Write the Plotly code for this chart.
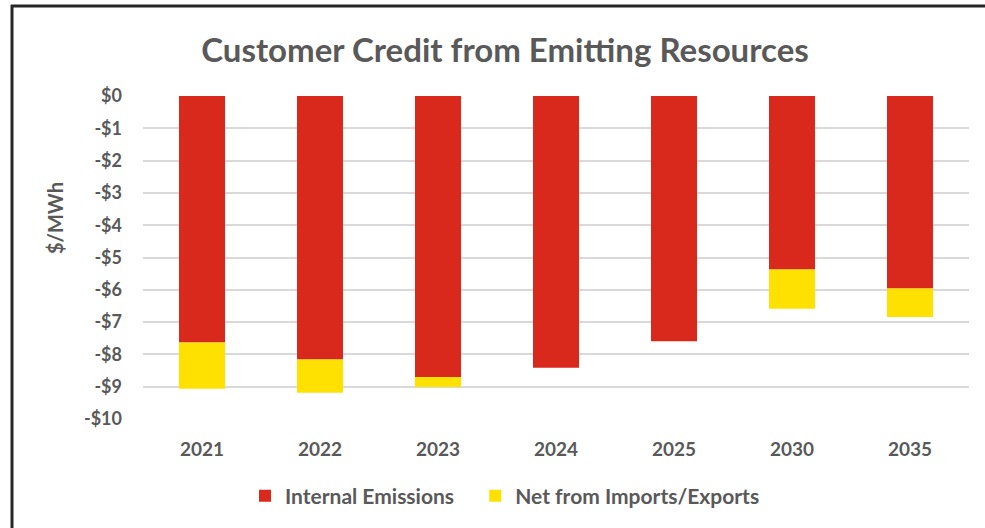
import plotly.graph_objects as go

years = ["2021", "2022", "2023", "2024", "2025", "2030", "2035"]
internal = [-7.63, -8.16, -8.70, -8.41, -7.59, -5.37, -5.96]
net_imports = [-1.43, -1.03, -0.31, 0.0, 0.0, -1.22, -0.88]
tick_vals = [0, -1, -2, -3, -4, -5, -6, -7, -8, -9, -10]
tick_text = ["$0", "-$1", "-$2", "-$3", "-$4", "-$5", "-$6", "-$7", "-$8", "-$9", "-$10"]

RED = "#D9291C"
YELLOW = "#FFE100"
GRAY = "#595959"
FONT = "Lato"

fig = go.Figure()
fig.add_trace(go.Bar(x=years, y=internal, name="<b>Internal Emissions</b>   ",
                     marker=dict(color=RED, line=dict(width=0))))
fig.add_trace(go.Bar(x=years, y=net_imports, name="<b>Net from Imports/Exports</b>",
                     marker=dict(color=YELLOW, line=dict(width=0))))

W, H = 985, 528
ml, mr, mt, mb = 143, 16, 96, 109
pw, ph = W - ml - mr, H - mt - mb

def px_x(px):
    return (px - ml) / pw

def px_y(py):
    return (H - mb - py) / ph

fig.update_layout(
    width=W, height=H,
    barmode="relative",
    bargap=0.61,
    plot_bgcolor="white",
    paper_bgcolor="white",
    margin=dict(l=ml, r=mr, t=mt, b=mb, autoexpand=False),
    font=dict(family=FONT, color=GRAY),
    title=dict(text="<b>Customer Credit from Emitting Resources</b>",
               x=505 / W, xanchor="center", y=1 - 50 / H, yanchor="middle",
               font=dict(size=33, color=GRAY, family=FONT)),
    xaxis=dict(showgrid=False, showline=False, ticks="",
               tickprefix="<b>", ticksuffix="</b>",
               tickfont=dict(size=19, color=GRAY, family=FONT),
               ticklabelstandoff=17),
    yaxis=dict(range=[-10, 0], tickvals=tick_vals,
               ticktext=["<b>" + t + "</b>" for t in tick_text],
               showgrid=True, gridcolor="#D9D9D9", gridwidth=1.5,
               zeroline=False, showline=False, ticks="",
               tickfont=dict(size=18, color=GRAY, family=FONT),
               ticklabelstandoff=20),
    legend=dict(orientation="h", xref="container", yref="container",
                x=505 / W, xanchor="center", y=1 - 496 / H, yanchor="middle",
                font=dict(size=21, color=GRAY, family=FONT),
                itemwidth=30, traceorder="normal"),
    showlegend=True,
)

fig.add_annotation(text="<b>$/MWh</b>", xref="paper", yref="paper",
                   x=px_x(55), y=px_y(218), xanchor="center", yanchor="middle",
                   textangle=-90, showarrow=False,
                   font=dict(size=20, color=GRAY, family=FONT))

# frame lines (left and top border)
fig.add_shape(type="line", xref="paper", yref="paper",
              x0=px_x(12), x1=px_x(12), y0=px_y(5), y1=px_y(H + 5),
              line=dict(color="#262626", width=3))
fig.add_shape(type="line", xref="paper", yref="paper",
              x0=px_x(11), x1=px_x(W + 5), y0=px_y(6), y1=px_y(6),
              line=dict(color="#262626", width=3))

fig.write_html("out.html")
